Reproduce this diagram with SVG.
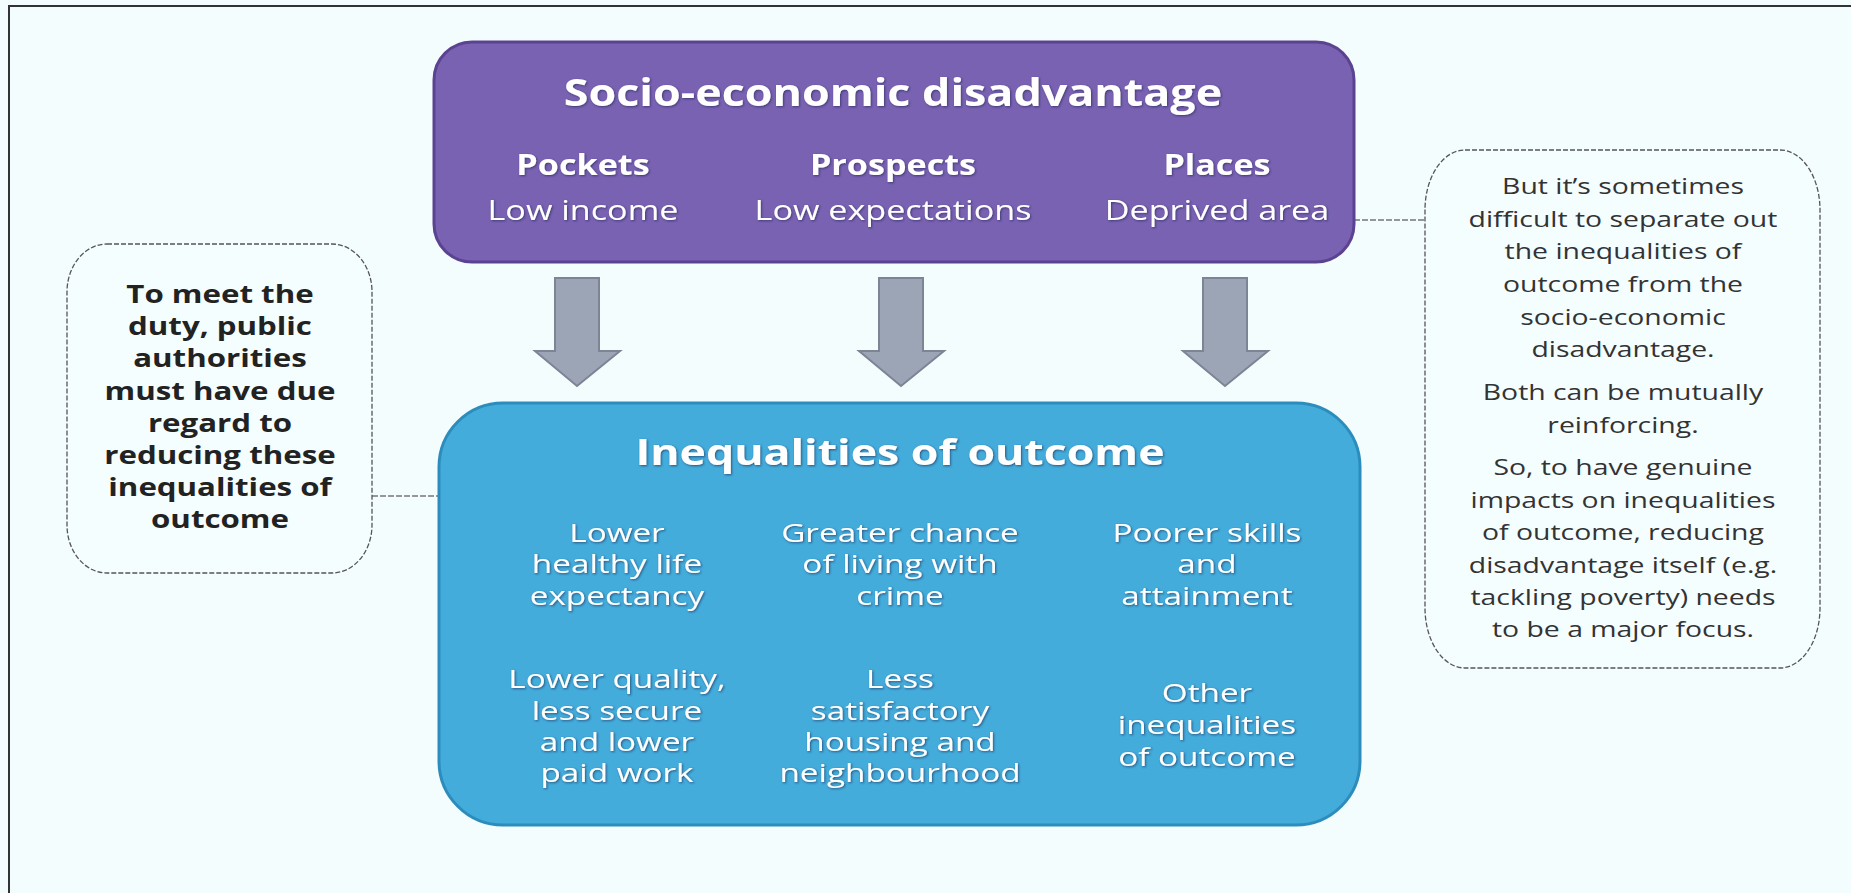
<svg xmlns="http://www.w3.org/2000/svg" width="1851" height="893" viewBox="0 0 1851 893">
<defs>
<style>
.bg{fill:#f3fdfe}
.frame{fill:none;stroke:#333;stroke-width:2}
.purple{fill:#7a62b3;stroke:#5b4391;stroke-width:3}
.blue{fill:#43acdb;stroke:#2c8dbd;stroke-width:3}
.arrow{fill:#9ca5b5;stroke:#7c8495;stroke-width:2;stroke-linejoin:miter}
.note{fill:#f5feff;stroke:#555;stroke-width:1.3;stroke-dasharray:5 2}
.conn{fill:none;stroke:#777;stroke-width:1.3;stroke-dasharray:6 2}
.w{fill:#ffffff;font-family:"Open Sans","Liberation Sans",sans-serif;text-anchor:middle}
.wb{font-weight:700}
.t1{font-size:38px}
.t2{font-size:28px}
.t3{font-size:36px}
.t4{font-size:26px}
.lb{fill:#222;font-family:"Open Sans","Liberation Sans",sans-serif;font-weight:700;font-size:25px;text-anchor:middle}
.rb{fill:#333;font-family:"Open Sans","Liberation Sans",sans-serif;font-size:22px;text-anchor:middle}
</style>
<filter id="sh" x="-10%" y="-30%" width="120%" height="160%">
<feDropShadow dx="1" dy="1" stdDeviation="1.2" flood-color="#1b2050" flood-opacity="0.65"/>
</filter>
</defs>
<rect class="bg" x="0" y="0" width="1851" height="893"/>
<path class="frame" d="M9 893 V6 H1851"/>

<g id="connectors">
<line class="conn" x1="372" y1="496" x2="438" y2="496"/>
<line class="conn" x1="1354" y1="220" x2="1425" y2="220"/>
<path class="arrow" d="M555 278 H599 V351 H620 L577 386 L535 351 H555 Z"/>
<path class="arrow" d="M879 278 H923 V351 H944 L901 386 L859 351 H879 Z"/>
<path class="arrow" d="M1203 278 H1247 V351 H1268 L1225 386 L1183 351 H1203 Z"/>
</g>

<g id="socio">
<rect class="purple" x="434" y="42" width="920" height="220" rx="38"/>
<g filter="url(#sh)">
<text class="w wb t1" x="893" y="106" transform="matrix(1.18 0 0 1 -160.74 0)">Socio-economic disadvantage</text>
<g transform="matrix(1.22 0 0 1 -128.26 0)">
<text class="w wb t2" x="583" y="175">Pockets</text>
<text class="w t2" x="583" y="220">Low income</text>
</g>
<g transform="matrix(1.22 0 0 1 -196.46 0)">
<text class="w wb t2" x="893" y="175">Prospects</text>
<text class="w t2" x="893" y="220">Low expectations</text>
</g>
<g transform="matrix(1.22 0 0 1 -267.74 0)">
<text class="w wb t2" x="1217" y="175">Places</text>
<text class="w t2" x="1217" y="220">Deprived area</text>
</g>
</g>
</g>

<g id="outcome">
<rect class="blue" x="439" y="403" width="921" height="422" rx="64"/>
<g filter="url(#sh)">
<text class="w wb t3" x="900" y="465" transform="matrix(1.24 0 0 1 -216 0)">Inequalities of outcome</text>
<g transform="matrix(1.28 0 0 1 -172.76 0)">
<text class="w t4" x="617" y="542">Lower</text>
<text class="w t4" x="617" y="573">healthy life</text>
<text class="w t4" x="617" y="605">expectancy</text>
<text class="w t4" x="617" y="688">Lower quality,</text>
<text class="w t4" x="617" y="720">less secure</text>
<text class="w t4" x="617" y="751">and lower</text>
<text class="w t4" x="617" y="782">paid work</text>
</g>
<g transform="matrix(1.28 0 0 1 -252 0)">
<text class="w t4" x="900" y="542">Greater chance</text>
<text class="w t4" x="900" y="573">of living with</text>
<text class="w t4" x="900" y="605">crime</text>
<text class="w t4" x="900" y="688">Less</text>
<text class="w t4" x="900" y="720">satisfactory</text>
<text class="w t4" x="900" y="751">housing and</text>
<text class="w t4" x="900" y="782">neighbourhood</text>
</g>
<g transform="matrix(1.28 0 0 1 -337.96 0)">
<text class="w t4" x="1207" y="542">Poorer skills</text>
<text class="w t4" x="1207" y="573">and</text>
<text class="w t4" x="1207" y="605">attainment</text>
<text class="w t4" x="1207" y="702">Other</text>
<text class="w t4" x="1207" y="734">inequalities</text>
<text class="w t4" x="1207" y="766">of outcome</text>
</g>
</g>
</g>

<g id="duty-note">
<rect class="note" x="67" y="244" width="305" height="329" rx="40" ry="48"/>
<g transform="matrix(1.25 0 0 1 -55 0)">
<text class="lb" x="220" y="303">To meet the</text>
<text class="lb" x="220" y="335">duty, public</text>
<text class="lb" x="220" y="367">authorities</text>
<text class="lb" x="220" y="400">must have due</text>
<text class="lb" x="220" y="432">regard to</text>
<text class="lb" x="220" y="464">reducing these</text>
<text class="lb" x="220" y="496">inequalities of</text>
<text class="lb" x="220" y="528">outcome</text>
</g>
</g>

<g id="separate-note">
<rect class="note" x="1425" y="150" width="395" height="518" rx="40" ry="60"/>
<g transform="matrix(1.29 0 0 1 -470.67 0)">
<text class="rb" x="1623" y="194">But it’s sometimes</text>
<text class="rb" x="1623" y="227">difficult to separate out</text>
<text class="rb" x="1623" y="259">the inequalities of</text>
<text class="rb" x="1623" y="292">outcome from the</text>
<text class="rb" x="1623" y="325">socio-economic</text>
<text class="rb" x="1623" y="357">disadvantage.</text>
<text class="rb" x="1623" y="400">Both can be mutually</text>
<text class="rb" x="1623" y="433">reinforcing.</text>
<text class="rb" x="1623" y="475">So, to have genuine</text>
<text class="rb" x="1623" y="508">impacts on inequalities</text>
<text class="rb" x="1623" y="540">of outcome, reducing</text>
<text class="rb" x="1623" y="573">disadvantage itself (e.g.</text>
<text class="rb" x="1623" y="605">tackling poverty) needs</text>
<text class="rb" x="1623" y="637">to be a major focus.</text>
</g>
</g>
</svg>
